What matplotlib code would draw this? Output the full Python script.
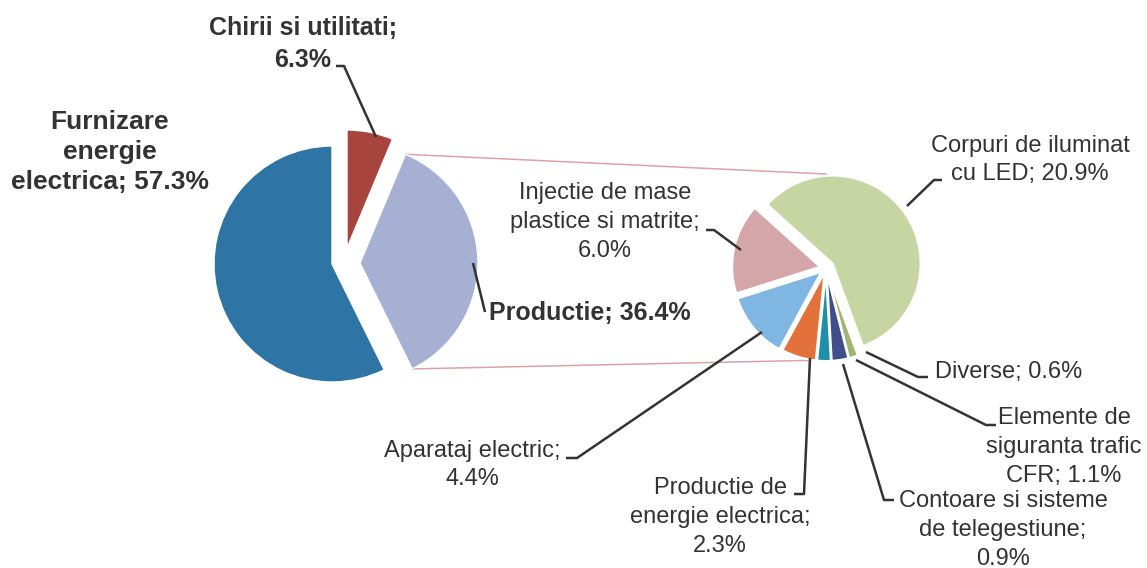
import numpy as np
import matplotlib
matplotlib.use('Agg')
import matplotlib.pyplot as plt

# Main pie
main_labels = ['Furnizare\nenergie\nelectrica', 'Productie', 'Chirii si utilitati;\n']
main_values = [57.3, 36.4, 6.3]
main_colors = ['#2e74a4', '#a6b0d2', '#a8443e']

# Breakdown of "Productie"
sub_labels = ['Corpuri de iluminat\ncu LED', 'Diverse', 'Elemente de\nsiguranta trafic\nCFR',
              'Contoare si sisteme\nde telegestiune;\n', 'Productie de\nenergie electrica;\n',
              'Aparataj electric;\n', 'Injectie de mase\nplastice si matrite;\n']
sub_values = [20.9, 0.6, 1.1, 0.9, 2.3, 4.4, 6.0]
sub_colors = ['#c7d5a2', '#9fb573', '#404f8c', '#1d8fa9', '#e3713b', '#80b6e2', '#d4a6aa']

W, H = 1147, 568
TXT = '#333333'
plt.rcParams['font.family'] = ['Liberation Sans', 'DejaVu Sans']


def Y(y):
    # image row -> axes y
    return H - y


fig = plt.figure(figsize=(W / 100, H / 100), dpi=100)
ax = fig.add_axes([0, 0, 1, 1])

# Left pie (explode is in pixels here since axes are in pixel units)
c1 = (332, Y(264))
r1 = 118
w1, _ = ax.pie(main_values, colors=main_colors, startangle=90, counterclock=True,
               center=c1, radius=r1, explode=[0, 28, 0],
               wedgeprops=dict(edgecolor='white', linewidth=1))
w1[2].set_center((c1[0] + 15, c1[1] + 16))

# Right pie
c2 = (826, Y(268))
r2 = 88
w2, _ = ax.pie(sub_values, colors=sub_colors, startangle=138, counterclock=False,
               center=c2, radius=r2, explode=[8, 5, 5, 5, 5, 6, 6],
               wedgeprops=dict(edgecolor='white', linewidth=1.5))

# Connector lines from the "Productie" slice to the second pie
g = w1[1]
gx, gy = g.center
for th, ty in [(g.theta2, c2[1] + r2 + 6), (g.theta1, c2[1] - r2 - 4)]:
    px = gx + g.r * np.cos(np.radians(th))
    py = gy + g.r * np.sin(np.radians(th))
    ax.plot([px, c2[0]], [py, ty], color='#d9a3a8', lw=1.1, zorder=0.5)


def leader(pts):
    xs = [p[0] for p in pts]
    ys = [Y(p[1]) for p in pts]
    ax.plot(xs, ys, color=TXT, lw=1.8, solid_capstyle='butt', zorder=3)


def label(x, y, s, ha='center', size=17, bold=False, ls=1.4):
    ax.text(x, Y(y), s, ha=ha, va='center', fontsize=size, color=TXT,
            fontweight='bold' if bold else 'normal', linespacing=ls)


def pct(v):
    return f'{v:.1f}%'


# Left pie labels
label(110, 152, f'{main_labels[0]}; {pct(main_values[0])}', size=19, bold=True, ls=1.3)
label(303, 44, f'{main_labels[2]}{pct(main_values[2])}', size=18, bold=True, ls=1.42)
leader([(336, 66), (344, 66), (376, 137)])
label(489, 313, f'{main_labels[1]}; {pct(main_values[1])}', ha='left', size=18, bold=True)
leader([(485, 312), (473, 263)])

# Right pie labels
label(1030, 160, f'{sub_labels[0]}; {pct(sub_values[0])}')
leader([(942, 180), (934, 180), (907, 206)])
label(935, 372, f'{sub_labels[1]}; {pct(sub_values[1])}', ha='left')
leader([(928, 377), (918, 377), (866, 352)])
label(1064, 447, f'{sub_labels[2]}; {pct(sub_values[2])}')
leader([(996, 425), (986, 425), (856, 360)])
label(1003, 530, f'{sub_labels[3]}{pct(sub_values[3])}')
leader([(894, 500), (884, 500), (843, 364)])
label(720, 517, f'{sub_labels[4]}{pct(sub_values[4])}')
leader([(794, 494), (804, 494), (810, 358)])
label(472, 465, f'{sub_labels[5]}{pct(sub_values[5])}')
leader([(566, 458), (577, 458), (762, 332)])
label(605, 222, f'{sub_labels[6]}{pct(sub_values[6])}')
leader([(706, 230), (714, 230), (741, 250)])

ax.set_xlim(0, W)
ax.set_ylim(0, H)
ax.set_aspect('equal')
ax.axis('off')

fig.savefig('out.png', dpi=100)
